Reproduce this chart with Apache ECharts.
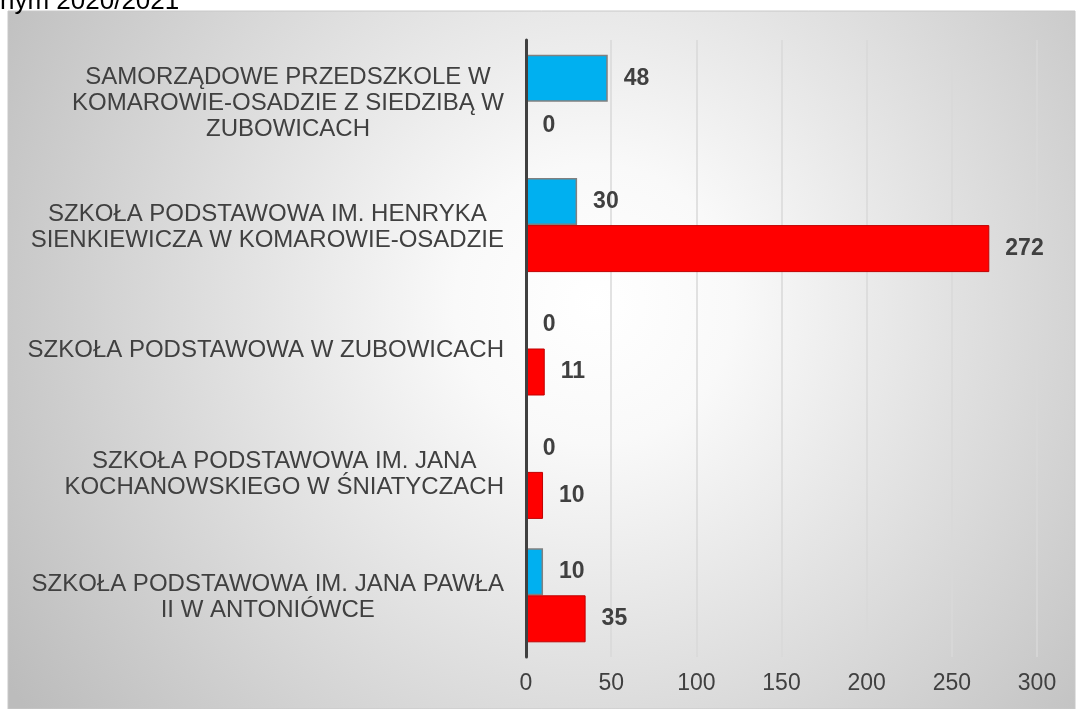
<!doctype html>
<html style="width: 100%; height: 100%"><head><meta charset="utf-8"></head>
<body style="width: 100%; height: 100%; margin: 0; background: #fff">
<div id="container" style="width: 1076px; height: 709px"></div>
<script type="text/javascript" src="https://cdn.jsdelivr.net/npm/echarts@6/dist/echarts.min.js"></script>
<script type="text/javascript">
var dom = document.getElementById("container");
var myChart = echarts.init(dom);

// szkoły (od góry)
var categories = [
    'SAMORZĄDOWE PRZEDSZKOLE W\nKOMAROWIE-OSADZIE Z SIEDZIBĄ W\nZUBOWICACH',
    'SZKOŁA PODSTAWOWA IM. HENRYKA\nSIENKIEWICZA W KOMAROWIE-OSADZIE',
    'SZKOŁA PODSTAWOWA W ZUBOWICACH',
    'SZKOŁA PODSTAWOWA IM. JANA\nKOCHANOWSKIEGO W ŚNIATYCZACH',
    'SZKOŁA PODSTAWOWA IM. JANA PAWŁA\nII W ANTONIÓWCE'
];
var blueValues = [48, 30, 0, 0, 10];
var redValues = [0, 272, 11, 10, 35];
var xTicks = [0, 50, 100, 150, 200, 250, 300];

var labelStyle = {
    show: true,
    position: 'right',
    distance: 16,
    fontFamily: 'Liberation Sans, Arial',
    fontSize: 23,
    fontWeight: 'bold',
    color: '#404040',
    padding: [5, 0, 0, 0]
};

var option = {
    animation: false,
    graphic: [
        {
            type: 'rect',
            z: -100,
            silent: true,
            shape: {x: 8, y: 11, width: 1067, height: 698},
            style: {
                fill: {
                    type: 'radial', x: 0.55, y: 0.42, r: 1.0,
                    colorStops: [
                        {offset: 0, color: '#ffffff'},
                        {offset: 0.2, color: '#f9f9f9'},
                        {offset: 1, color: '#bcbcbc'}
                    ]
                },
                stroke: '#c8c8c8',
                lineWidth: 1
            }
        },
        {
            // koniec tytułu, ucięty u góry
            type: 'text',
            x: 0,
            y: 15,
            silent: true,
            style: {
                text: 'nym 2020/2021',
                fontFamily: 'Liberation Sans, Arial',
                fontSize: 26,
                verticalAlign: 'bottom',
                fill: '#000'
            }
        }
    ],
    grid: {left: 526, right: 39, top: 40, bottom: 52},
    xAxis: {
        type: 'value',
        min: xTicks[0],
        max: xTicks[xTicks.length - 1],
        interval: 50,
        axisLine: {show: false},
        axisTick: {show: false},
        splitLine: {lineStyle: {color: '#d9d9d9', width: 1.5}},
        axisLabel: {
            margin: 15,
            fontFamily: 'Liberation Sans, Arial',
            fontSize: 23,
            color: '#404040'
        }
    },
    yAxis: {
        type: 'category',
        inverse: true,
        z: 5,
        data: categories,
        axisLine: {lineStyle: {color: '#404040', width: 3}},
        axisTick: {show: false},
        axisLabel: {
            margin: 22,
            formatter: function (v) { return '{a|' + v.split('\n').join('}\n{a|') + '}'; },
            rich: {
                a: {
                    align: 'center',
                    fontFamily: 'Liberation Sans, Arial',
                    fontSize: 24,
                    lineHeight: 26,
                    color: '#404040',
                    padding: [4, 0, 0, 0]
                }
            }
        }
    },
    series: [
        {
            name: 'blue',
            type: 'bar',
            data: blueValues,
            barWidth: 47,
            barGap: '0%',
            itemStyle: {color: '#00b0f0', borderColor: '#808080', borderWidth: 1.5},
            label: labelStyle
        },
        {
            name: 'red',
            type: 'bar',
            data: redValues,
            barWidth: 47,
            barGap: '0%',
            itemStyle: {color: '#ff0000', borderColor: '#c00000', borderWidth: 1},
            label: labelStyle
        }
    ]
};
myChart.setOption(option);
</script>
</body></html>
